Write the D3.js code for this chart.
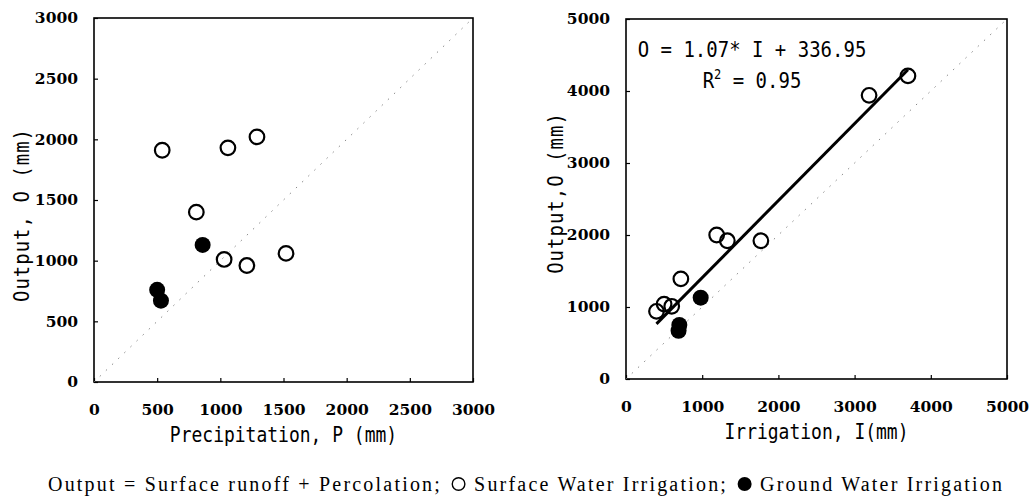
<!DOCTYPE html>
<html>
<head>
<meta charset="utf-8">
<script src="https://cdn.jsdelivr.net/npm/d3@7"></script>
<style>
  body { margin: 0; background: #fff; }
  svg { display: block; }
  .tick text { font-family: "DejaVu Serif", serif; font-size: 15.5px; font-weight: bold; fill: #000; }
  .tick line { stroke: #000; stroke-width: 1.2; }
  .axisTitle { font-family: "DejaVu Sans Mono", monospace; fill: #000; }
  .legend { font-family: "Liberation Serif", serif; font-size: 20px; letter-spacing: 2.2px; fill: #000; }
</style>
</head>
<body>
<div id="chart"></div>
<script>
// ---- left panel: precipitation vs output ----
var precipTicks = [0, 500, 1000, 1500, 2000, 2500, 3000];
var outputTicksLeft = [0, 500, 1000, 1500, 2000, 2500, 3000];
var swPrecip = [540, 1060, 1290, 810, 1030, 1210, 1520];
var swOutputLeft = [1910, 1930, 2020, 1400, 1010, 960, 1060];
var gwPrecip = [860, 500, 530];
var gwOutputLeft = [1130, 760, 670];

// ---- right panel: irrigation vs output ----
var irrTicks = [0, 1000, 2000, 3000, 4000, 5000];
var outputTicksRight = [0, 1000, 2000, 3000, 4000, 5000];
var swIrr = [400, 500, 600, 720, 1190, 1330, 1770, 3190, 3700];
var swOutputRight = [940, 1040, 1010, 1390, 2000, 1920, 1920, 3940, 4210];
var gwIrr = [980, 700, 690];
var gwOutputRight = [1130, 750, 670];

// regression O = a*I + b
var fitSlope = 1.07;
var fitIntercept = 336.95;
var fitR2 = 0.95;

var svgWidth = 1032;
var svgHeight = 503;

var svg = d3.select("#chart")
  .append("svg")
  .attr("width", svgWidth)
  .attr("height", svgHeight);

function zipPts(xs, ys) {
  return xs.map(function(x, i) { return { x: x, y: ys[i] }; });
}

function drawPanel(p) {
  var g = svg.append("g")
    .attr("transform", `translate(${p.left}, ${p.top})`);

  var xScale = d3.scaleLinear()
    .domain([0, d3.max(p.xTicks)])
    .range([0, p.width]);
  var yScale = d3.scaleLinear()
    .domain([0, d3.max(p.yTicks)])
    .range([p.height, 0]);

  // axes with inward ticks
  var bottomAxis = d3.axisBottom(xScale)
    .tickValues(p.xTicks)
    .tickFormat(d3.format("d"))
    .tickSizeInner(-4)
    .tickSizeOuter(0)
    .tickPadding(22);
  var leftAxis = d3.axisLeft(yScale)
    .tickValues(p.yTicks)
    .tickFormat(d3.format("d"))
    .tickSizeInner(-4)
    .tickSizeOuter(0)
    .tickPadding(16);

  g.append("g")
    .attr("transform", `translate(0, ${p.height})`)
    .call(bottomAxis)
    .call(function(a) { a.select(".domain").remove(); });
  g.append("g")
    .call(leftAxis)
    .call(function(a) { a.select(".domain").remove(); });

  // frame
  g.append("rect")
    .attr("width", p.width)
    .attr("height", p.height)
    .attr("fill", "none")
    .attr("stroke", "#000")
    .attr("stroke-width", 1.6);

  // 1:1 line
  var maxV = d3.max(p.xTicks);
  g.append("line")
    .attr("x1", xScale(0)).attr("y1", yScale(0))
    .attr("x2", xScale(maxV)).attr("y2", yScale(maxV))
    .attr("stroke", "#888")
    .attr("stroke-width", 1)
    .attr("stroke-dasharray", "1.5,7")
    .attr("stroke-dashoffset", -8);

  // regression line
  if (p.fit) {
    var fx = d3.extent(p.open.concat(p.filled), d => d.x);
    g.append("line")
      .attr("x1", xScale(fx[0])).attr("y1", yScale(fitSlope * fx[0] + fitIntercept))
      .attr("x2", xScale(fx[1])).attr("y2", yScale(fitSlope * fx[1] + fitIntercept))
      .attr("stroke", "#000")
      .attr("stroke-width", 3);

    g.append("text")
      .attr("class", "axisTitle")
      .attr("text-anchor", "middle")
      .attr("transform", `translate(${752 - p.left}, ${57 - p.top}) scale(1, 1.15)`)
      .style("font-size", "19px")
      .text(`O = ${fitSlope}* I + ${fitIntercept}`);

    var r2 = g.append("text")
      .attr("class", "axisTitle")
      .attr("text-anchor", "middle")
      .attr("transform", `translate(${752 - p.left}, ${88 - p.top}) scale(1, 1.15)`)
      .style("font-size", "19px");
    r2.append("tspan").text("R");
    r2.append("tspan").attr("dy", -8).style("font-size", "12px").text("2");
    r2.append("tspan").attr("dy", 8).text(` = ${fitR2.toFixed(2)}`);
  }

  // points
  g.selectAll("circle.open")
    .data(p.open)
    .enter()
    .append("circle")
    .attr("class", "open")
    .attr("cx", d => xScale(d.x))
    .attr("cy", d => yScale(d.y))
    .attr("r", 7.3)
    .attr("fill", "none")
    .attr("stroke", "#000")
    .attr("stroke-width", 2.2);

  g.selectAll("circle.filled")
    .data(p.filled)
    .enter()
    .append("circle")
    .attr("class", "filled")
    .attr("cx", d => xScale(d.x))
    .attr("cy", d => yScale(d.y))
    .attr("r", 8)
    .attr("fill", "#000");

  // axis titles
  g.append("text")
    .attr("class", "axisTitle")
    .attr("text-anchor", "middle")
    .attr("transform", `translate(${p.width / 2}, ${p.height + 60}) scale(1, 1.15)`)
    .style("font-size", "18px")
    .text(p.xTitle);

  g.append("text")
    .attr("class", "axisTitle")
    .attr("text-anchor", "middle")
    .attr("transform", `translate(${p.yTitleX - p.left}, ${p.yTitleY - p.top}) rotate(-90) scale(1, 1.15)`)
    .style("font-size", "19px")
    .style("letter-spacing", "1px")
    .text(p.yTitle);
}

drawPanel({
  left: 94, top: 18, width: 379, height: 364,
  xTicks: precipTicks, yTicks: outputTicksLeft,
  open: zipPts(swPrecip, swOutputLeft),
  filled: zipPts(gwPrecip, gwOutputLeft),
  xTitle: "Precipitation, P (mm)",
  yTitle: "Output, O (mm)",
  yTitleX: 29, yTitleY: 215,
  fit: false
});

drawPanel({
  left: 626, top: 19, width: 381, height: 360,
  xTicks: irrTicks, yTicks: outputTicksRight,
  open: zipPts(swIrr, swOutputRight),
  filled: zipPts(gwIrr, gwOutputRight),
  xTitle: "Irrigation, I(mm)",
  yTitle: "Output,O (mm)",
  yTitleX: 563, yTitleY: 193,
  fit: true
});

// legend line at the bottom
var legend = svg.append("g");
var lx = 48;
var ly = 491;
var items = [
  { text: "Output = Surface runoff + Percolation;", mark: "open" },
  { text: "Surface Water Irrigation;", mark: "filled" },
  { text: "Ground Water Irrigation", mark: null }
];
items.forEach(function(item) {
  var t = legend.append("text")
    .attr("class", "legend")
    .attr("x", lx)
    .attr("y", ly)
    .text(item.text);
  lx += t.node().getComputedTextLength() + 10;
  if (item.mark) {
    legend.append("circle")
      .attr("cx", lx + 6.5)
      .attr("cy", 484)
      .attr("r", item.mark == "open" ? 6.3 : 7)
      .attr("fill", item.mark == "open" ? "none" : "#000")
      .attr("stroke", "#000")
      .attr("stroke-width", item.mark == "open" ? 1.4 : 0);
    lx += 22;
  }
});
</script>
</body>
</html>
